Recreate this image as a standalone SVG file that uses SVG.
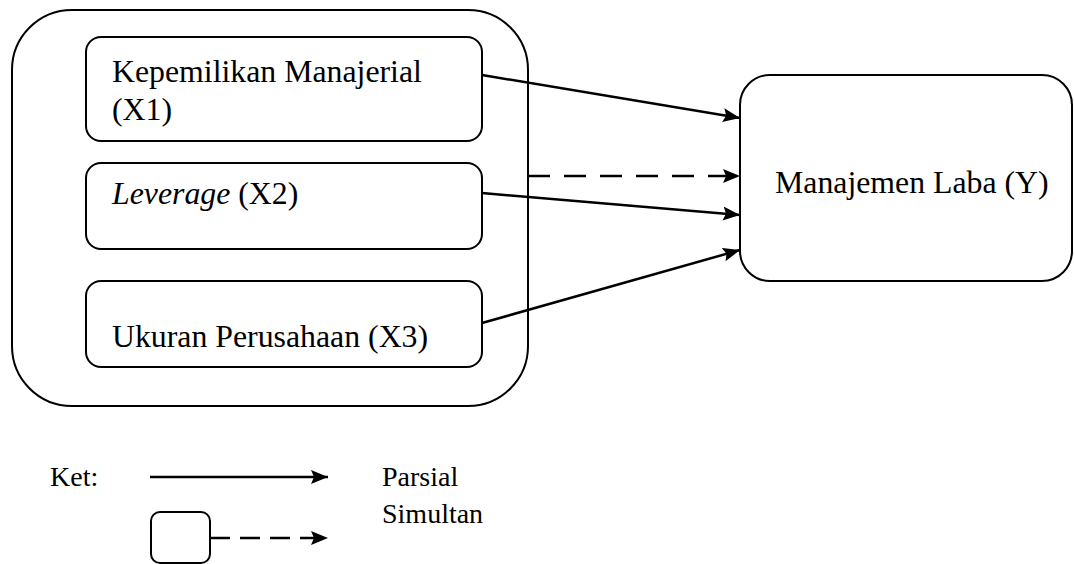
<svg xmlns="http://www.w3.org/2000/svg" width="1074" height="564" viewBox="0 0 1074 564">
  <style>
    .box { fill: #ffffff; stroke: #000000; stroke-width: 2; }
    .frame { fill: none; stroke: #000000; stroke-width: 2; }
    .t { font-family: "Liberation Serif", "Times New Roman", serif; font-size: 31.8px; fill: #000000; }
    .lt { font-family: "Liberation Serif", "Times New Roman", serif; font-size: 28px; fill: #000000; }
    .solid { stroke: #000000; stroke-width: 2.5; fill: none; }
    .dash { stroke: #000000; stroke-width: 2.5; fill: none; stroke-dasharray: 22 14; }
    .ldash { stroke: #000000; stroke-width: 2.5; fill: none; stroke-dasharray: 20 10; }
  </style>
  <defs>
    <marker id="ah" markerUnits="userSpaceOnUse" markerWidth="18" markerHeight="16" refX="17" refY="8" orient="auto">
      <path d="M0,1 L17,8 L0,15 L3,8 Z" fill="#000000"/>
    </marker>
  </defs>
  <rect width="1074" height="564" fill="#ffffff"/>

  <g id="group-x">
    <rect class="frame" x="12" y="10" width="516" height="396" rx="60" ry="60"/>
  </g>

  <g id="node-x1">
    <rect class="box" x="86" y="37" width="396" height="104" rx="15" ry="15"/>
    <text class="t" x="112" y="82">Kepemilikan Manajerial</text>
    <text class="t" x="112" y="120">(X1)</text>
  </g>

  <g id="node-x2">
    <rect class="box" x="86" y="163" width="396" height="86" rx="15" ry="15"/>
    <text class="t" x="112" y="204"><tspan font-style="italic">Leverage</tspan> (X2)</text>
  </g>

  <g id="node-x3">
    <rect class="box" x="86" y="281" width="396" height="86" rx="15" ry="15"/>
    <text class="t" x="112" y="347">Ukuran Perusahaan (X3)</text>
  </g>

  <g id="node-y">
    <rect class="box" x="740" y="75" width="332" height="206" rx="30" ry="30"/>
    <text class="t" x="775" y="193">Manajemen Laba (Y)</text>
  </g>

  <g id="connectors">
    <line class="solid" x1="482" y1="75" x2="740" y2="118" marker-end="url(#ah)"/>
    <line class="dash" x1="528" y1="176" x2="740" y2="176" marker-end="url(#ah)"/>
    <line class="solid" x1="482" y1="193" x2="740" y2="215" marker-end="url(#ah)"/>
    <line class="solid" x1="482" y1="323" x2="740" y2="250" marker-end="url(#ah)"/>
  </g>

  <g id="legend">
    <text class="lt" x="50" y="486">Ket:</text>
    <line class="solid" x1="150" y1="477" x2="328" y2="477" marker-end="url(#ah)"/>
    <text class="lt" x="382" y="486">Parsial</text>
    <rect class="box" x="151" y="512" width="59" height="51" rx="9" ry="9"/>
    <line class="ldash" x1="210" y1="538" x2="328" y2="538" marker-end="url(#ah)"/>
    <text class="lt" x="382" y="523">Simultan</text>
  </g>
</svg>
